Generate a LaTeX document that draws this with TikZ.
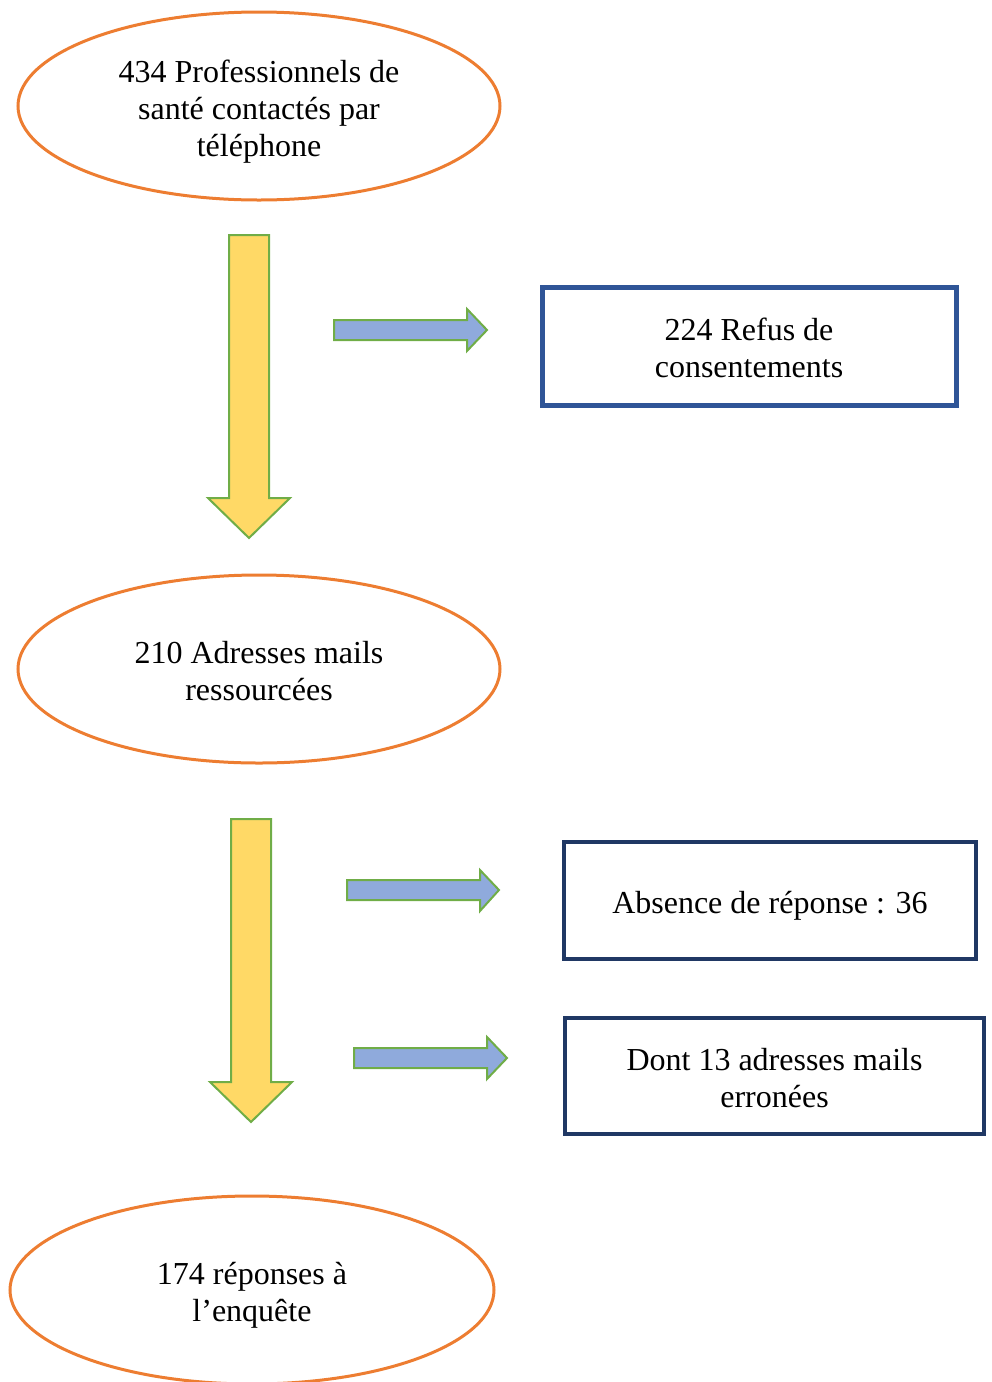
\documentclass[tikz,border=0pt]{standalone}
\usepackage{fontspec}
\setmainfont{Liberation Serif}
\usetikzlibrary{shapes.geometric}
\definecolor{orng}{HTML}{ED7D31}
\definecolor{ylw}{HTML}{FFD966}
\definecolor{grn}{HTML}{70AD47}
\definecolor{blu}{HTML}{8FAADC}
\definecolor{navyA}{HTML}{2F5597}
\definecolor{navyB}{HTML}{203864}
\newcommand{\lowtxt}[1]{\raisebox{-6pt}[\height][\depth]{\begin{tabular}{@{}c@{}}#1\end{tabular}}}
\tikzset{
  txt/.style={font=\fontsize{32}{37}\selectfont},
  oval/.style={txt, ellipse, draw=orng, line width=3pt, minimum width=482pt, minimum height=188pt, inner sep=0pt},
  boxA/.style={txt, rectangle, draw=navyA, line width=5pt, inner sep=0pt},
  boxB/.style={txt, rectangle, draw=navyB, line width=4pt, inner sep=0pt},
  downarr/.style={fill=ylw, draw=grn, line width=2pt},
  rightarr/.style={fill=blu, draw=grn, line width=2pt},
}
\begin{document}
\begin{tikzpicture}[x=1pt,y=-1pt]
\useasboundingbox (0,0) rectangle (992,1382);
\node[oval] (e1) at (259,106) {\lowtxt{434 Professionnels de\\santé contactés par\\téléphone}};
\node[oval] (e2) at (259,669) {\lowtxt{210 Adresses mails\\ressourcées}};
\node[oval, minimum width=484pt] (e3) at (252,1290) {\lowtxt{174 réponses à\\l’enquête}};
\node[boxA, minimum width=414pt, minimum height=118pt] (b1) at (749,346) {\lowtxt{224 Refus de\\consentements}};
\node[boxB, minimum width=412pt, minimum height=117pt] (b2) at (770,900.5) {\lowtxt{Absence de réponse : 36}};
\node[boxB, minimum width=419pt, minimum height=116pt] (b3) at (774.5,1076) {\lowtxt{Dont 13 adresses mails\\erronées}};
% yellow down arrows
\draw[downarr] (229,235) -- (269,235) -- (269,498) -- (290,498) -- (249,538) -- (208,498) -- (229,498) -- cycle;
\draw[downarr] (231,819) -- (271,819) -- (271,1082) -- (292,1082) -- (251,1122) -- (210,1082) -- (231,1082) -- cycle;
% blue right arrows
\draw[rightarr] (334,320) -- (467,320) -- (467,309) -- (487,330) -- (467,351) -- (467,340) -- (334,340) -- cycle;
\draw[rightarr] (347,880) -- (480,880) -- (480,870) -- (499,890) -- (480,911) -- (480,900) -- (347,900) -- cycle;
\draw[rightarr] (354,1048) -- (487,1048) -- (487,1037) -- (507,1058) -- (487,1079) -- (487,1068) -- (354,1068) -- cycle;
\end{tikzpicture}
\end{document}
